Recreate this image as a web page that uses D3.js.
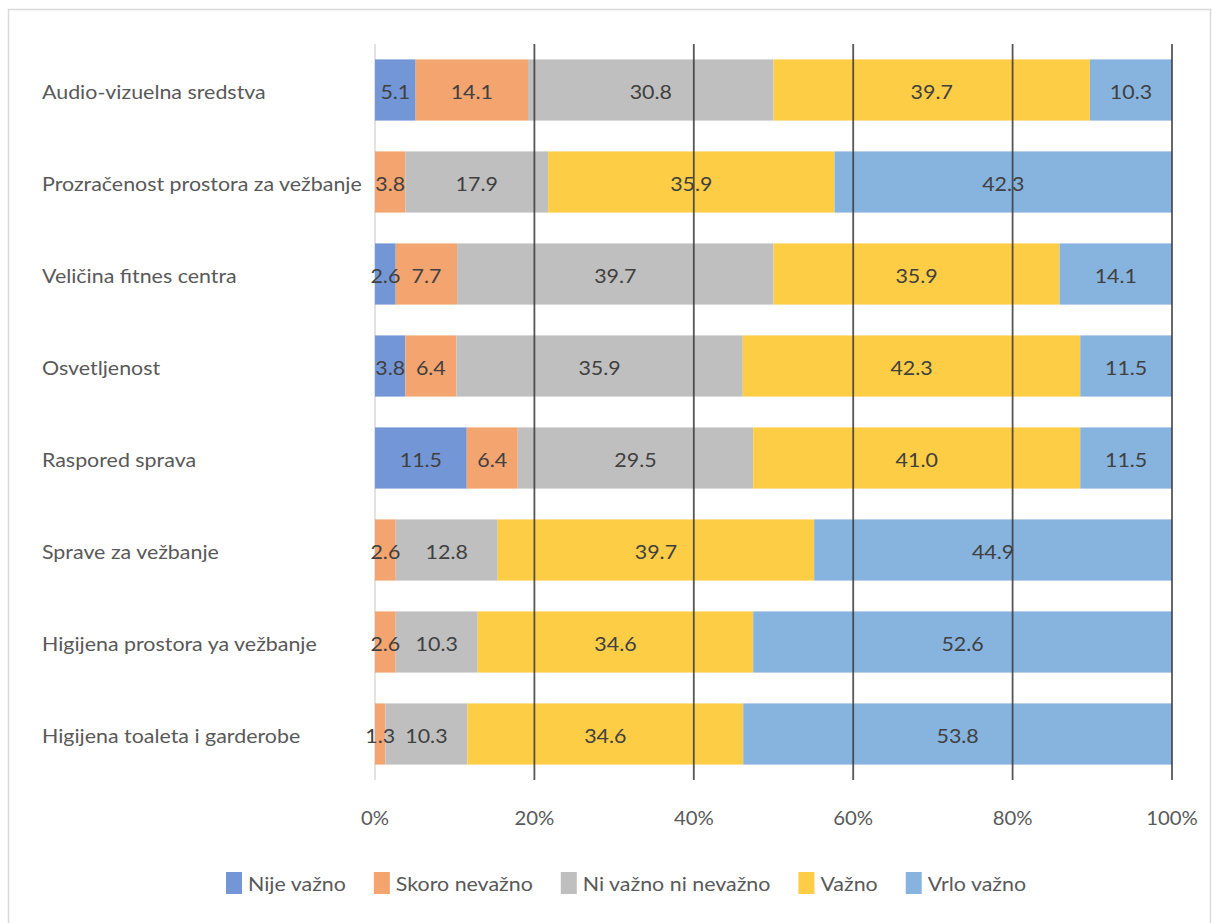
<!DOCTYPE html>
<html><head><meta charset="utf-8">
<script src="https://cdn.jsdelivr.net/npm/d3@7"></script>
<style>
html,body{margin:0;padding:0;background:#fff;}
svg{display:block;font-family:Lato, "Open Sans", sans-serif;}
</style></head>
<body>
<svg id="c" width="1212" height="923"></svg>
<script>
const categories = [
  "Audio-vizuelna sredstva",
  "Prozračenost prostora za vežbanje",
  "Veličina fitnes centra",
  "Osvetljenost",
  "Raspored sprava",
  "Sprave za vežbanje",
  "Higijena prostora ya vežbanje",
  "Higijena toaleta i garderobe"
];
const seriesNames = ["Nije važno","Skoro nevažno","Ni važno ni nevažno","Važno","Vrlo važno"];
const nijeVazno      = [5.1, 0,   2.6, 3.8, 11.5, 0,   0,   0];
const skoroNevazno   = [14.1,3.8, 7.7, 6.4, 6.4,  2.6, 2.6, 1.3];
const niVaznoNi      = [30.8,17.9,39.7,35.9,29.5, 12.8,10.3,10.3];
const vazno          = [39.7,35.9,35.9,42.3,41.0, 39.7,34.6,34.6];
const vrloVazno      = [10.3,42.3,14.1,11.5,11.5, 44.9,52.6,53.8];
const tickLabels = ["0%","20%","40%","60%","80%","100%"];
const colors = ["#7397d6","#f4a46f","#bfbfbf","#fecd46","#87b4df"];

const seriesValues = [nijeVazno, skoroNevazno, niVaznoNi, vazno, vrloVazno];
const svg = d3.select("#c");
const SX = 1.07;

function label(parent, px, py, str, opts) {
  const t = parent.append("text")
    .attr("transform", `translate(${px},${py}) scale(${SX},1)`)
    .attr("text-anchor", opts.anchor || "start")
    .attr("dominant-baseline", "central")
    .attr("font-size", opts.size || 20)
    .attr("fill", opts.fill || "#595959")
    .text(str);
  return t;
}

svg.append("rect").attr("x",8.5).attr("y",9.5).attr("width",1202).attr("height",930)
  .attr("fill","none").attr("stroke","#d9d9d9").attr("stroke-width",1.5);

const pLeft = 375, pRight = 1172, pTop = 44, pBottom = 780;
const x = d3.scaleLinear().domain([0,1]).range([pLeft,pRight]);
const y = d3.scaleBand().domain(categories).range([pTop,pBottom]).paddingInner(0.335).paddingOuter(0.1675);

const rows = categories.map((c,i)=>{
  const vals = seriesValues.map(s=>s[i]);
  const tot = d3.sum(vals);
  let acc = 0;
  return vals.map((v,k)=>{ const s0 = acc/tot; acc += v; return {cat:c, k, v, x0:s0, x1:acc/tot}; });
});

svg.append("line").attr("x1",x(0)).attr("x2",x(0)).attr("y1",pTop).attr("y2",pBottom)
  .attr("stroke","#d9d9d9").attr("stroke-width",1.5);

const g = svg.append("g");
rows.forEach(r=>{
  r.forEach(d=>{
    if(d.v<=0) return;
    g.append("rect").attr("x",x(d.x0)).attr("y",y(d.cat))
      .attr("width",x(d.x1)-x(d.x0)).attr("height",y.bandwidth())
      .attr("fill",colors[d.k]);
  });
});

[0.2,0.4,0.6,0.8,1].forEach(t=>{
  svg.append("line").attr("x1",x(t)).attr("x2",x(t)).attr("y1",pTop).attr("y2",pBottom)
    .attr("stroke","#3a3a3a").attr("stroke-width",1.8).attr("opacity",0.85);
});

rows.forEach(r=>{
  r.forEach(d=>{
    if(d.v<=0) return;
    label(svg, (x(d.x0)+x(d.x1))/2, y(d.cat)+y.bandwidth()/2+1, d.v.toFixed(1),
      {anchor:"middle", fill:"#404040", size:20});
  });
});

categories.forEach(c=>{
  label(svg, 42, y(c)+y.bandwidth()/2+1, c, {size:20});
});

const ticks = [0,0.2,0.4,0.6,0.8,1];
ticks.forEach((t,i)=>{
  label(svg, x(t), 818, tickLabels[i], {anchor:"middle", size:19});
});

let lx = 226;
seriesNames.forEach((n,i)=>{
  svg.append("rect").attr("x",lx).attr("y",872).attr("width",16).attr("height",22).attr("fill",colors[i]);
  const t = label(svg, lx+22, 883, n, {size:20});
  lx += 22 + t.node().getComputedTextLength()*SX + 28;
});
</script>
</body></html>
